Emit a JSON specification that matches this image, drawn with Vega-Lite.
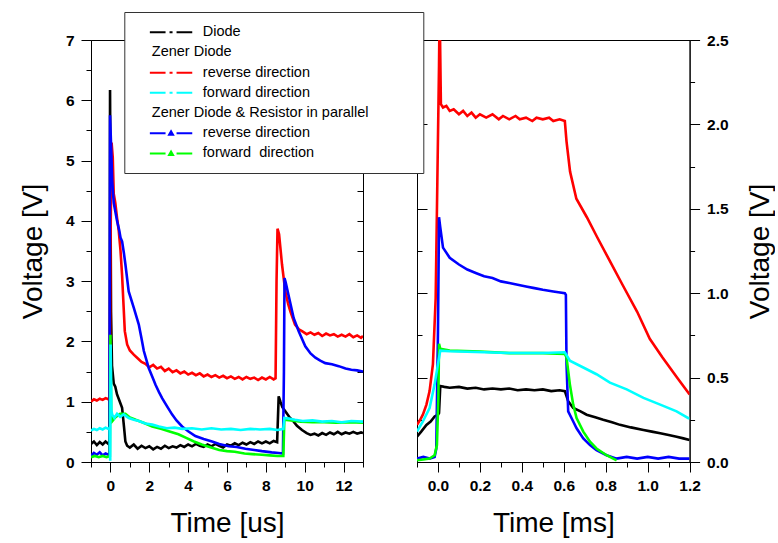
{
"$schema": "https://vega.github.io/schema/vega-lite/v6.json",
"autosize": {"type": "pad"},
"padding": {"left": 18, "top": 11, "right": 0, "bottom": 0},
"background": "white",
"config": {
  "font": "Liberation Sans",
  "view": {"stroke": "black", "strokeWidth": 1},
  "axis": {"labelFont": "Liberation Sans", "labelFontSize": 15.5, "labelFontWeight": "bold", "labelColor": "black", "titleFont": "Liberation Sans", "titleFontSize": 28, "titleFontWeight": "normal", "titleColor": "black", "domainColor": "black", "tickColor": "black", "grid": false, "domainWidth": 1, "tickWidth": 1, "labelFlush": false, "labelOverlap": false, "labelBound": false}
},
"datasets": {
"L": [
{"s":"D","t":-1,"v":0.30},{"s":"D","t":-0.85,"v":0.34},{"s":"D","t":-0.7,"v":0.28},{"s":"D","t":-0.55,"v":0.33},{"s":"D","t":-0.4,"v":0.29},{"s":"D","t":-0.25,"v":0.34},{"s":"D","t":-0.1,"v":0.30},{"s":"D","t":-0.04,"v":0.32},{"s":"D","t":-0.02,"v":6.17},{"s":"D","t":0.03,"v":2.5},{"s":"D","t":0.08,"v":1.6},{"s":"D","t":0.17,"v":1.3},{"s":"D","t":0.25,"v":1.25},{"s":"D","t":0.34,"v":1.12},{"s":"D","t":0.45,"v":1.03},{"s":"D","t":0.6,"v":0.9},{"s":"D","t":0.7,"v":0.58},{"s":"D","t":0.77,"v":0.34},{"s":"D","t":0.86,"v":0.27},{"s":"D","t":1.0,"v":0.24},{"s":"D","t":1.2,"v":0.29},{"s":"D","t":1.4,"v":0.22},{"s":"D","t":1.6,"v":0.27},{"s":"D","t":1.8,"v":0.23},{"s":"D","t":2.0,"v":0.26},{"s":"D","t":2.2,"v":0.21},{"s":"D","t":2.4,"v":0.25},{"s":"D","t":2.6,"v":0.22},{"s":"D","t":2.8,"v":0.27},{"s":"D","t":3.0,"v":0.23},{"s":"D","t":3.2,"v":0.26},{"s":"D","t":3.4,"v":0.24},{"s":"D","t":3.6,"v":0.28},{"s":"D","t":3.8,"v":0.25},{"s":"D","t":4.0,"v":0.29},{"s":"D","t":4.2,"v":0.26},{"s":"D","t":4.4,"v":0.30},{"s":"D","t":4.6,"v":0.27},{"s":"D","t":4.8,"v":0.25},{"s":"D","t":5.0,"v":0.29},{"s":"D","t":5.2,"v":0.26},{"s":"D","t":5.4,"v":0.30},{"s":"D","t":5.6,"v":0.27},{"s":"D","t":5.8,"v":0.24},{"s":"D","t":6.0,"v":0.29},{"s":"D","t":6.2,"v":0.27},{"s":"D","t":6.4,"v":0.31},{"s":"D","t":6.6,"v":0.28},{"s":"D","t":6.8,"v":0.32},{"s":"D","t":7.0,"v":0.29},{"s":"D","t":7.2,"v":0.33},{"s":"D","t":7.4,"v":0.30},{"s":"D","t":7.6,"v":0.34},{"s":"D","t":7.8,"v":0.31},{"s":"D","t":8.0,"v":0.34},{"s":"D","t":8.2,"v":0.31},{"s":"D","t":8.4,"v":0.35},{"s":"D","t":8.58,"v":0.33},{"s":"D","t":8.66,"v":1.09},{"s":"D","t":8.75,"v":1.0},{"s":"D","t":8.85,"v":0.91},{"s":"D","t":9.0,"v":0.84},{"s":"D","t":9.2,"v":0.75},{"s":"D","t":9.35,"v":0.70},{"s":"D","t":9.6,"v":0.60},{"s":"D","t":9.86,"v":0.53},{"s":"D","t":10.1,"v":0.48},{"s":"D","t":10.3,"v":0.45},{"s":"D","t":10.5,"v":0.47},{"s":"D","t":10.7,"v":0.44},{"s":"D","t":10.9,"v":0.48},{"s":"D","t":11.1,"v":0.45},{"s":"D","t":11.3,"v":0.49},{"s":"D","t":11.5,"v":0.46},{"s":"D","t":11.7,"v":0.50},{"s":"D","t":11.9,"v":0.46},{"s":"D","t":12.1,"v":0.49},{"s":"D","t":12.3,"v":0.47},{"s":"D","t":12.5,"v":0.50},{"s":"D","t":12.7,"v":0.47},{"s":"D","t":12.9,"v":0.49},{"s":"D","t":13.0,"v":0.48},
{"s":"ZR","t":-1,"v":1.0},{"s":"ZR","t":-0.85,"v":1.04},{"s":"ZR","t":-0.7,"v":1.02},{"s":"ZR","t":-0.55,"v":1.05},{"s":"ZR","t":-0.4,"v":1.03},{"s":"ZR","t":-0.25,"v":1.06},{"s":"ZR","t":-0.1,"v":1.04},{"s":"ZR","t":-0.03,"v":1.08},{"s":"ZR","t":0.0,"v":3.5},{"s":"ZR","t":0.06,"v":5.3},{"s":"ZR","t":0.12,"v":5.05},{"s":"ZR","t":0.17,"v":4.45},{"s":"ZR","t":0.25,"v":4.3},{"s":"ZR","t":0.34,"v":4.05},{"s":"ZR","t":0.43,"v":3.83},{"s":"ZR","t":0.52,"v":3.5},{"s":"ZR","t":0.6,"v":3.1},{"s":"ZR","t":0.66,"v":2.7},{"s":"ZR","t":0.74,"v":2.17},{"s":"ZR","t":0.86,"v":1.95},{"s":"ZR","t":1.0,"v":1.85},{"s":"ZR","t":1.2,"v":1.78},{"s":"ZR","t":1.4,"v":1.72},{"s":"ZR","t":1.6,"v":1.66},{"s":"ZR","t":1.8,"v":1.63},{"s":"ZR","t":2.0,"v":1.57},{"s":"ZR","t":2.2,"v":1.61},{"s":"ZR","t":2.4,"v":1.55},{"s":"ZR","t":2.6,"v":1.58},{"s":"ZR","t":2.8,"v":1.51},{"s":"ZR","t":3.0,"v":1.55},{"s":"ZR","t":3.2,"v":1.49},{"s":"ZR","t":3.4,"v":1.52},{"s":"ZR","t":3.6,"v":1.47},{"s":"ZR","t":3.8,"v":1.50},{"s":"ZR","t":4.0,"v":1.45},{"s":"ZR","t":4.2,"v":1.48},{"s":"ZR","t":4.4,"v":1.44},{"s":"ZR","t":4.6,"v":1.47},{"s":"ZR","t":4.8,"v":1.42},{"s":"ZR","t":5.0,"v":1.45},{"s":"ZR","t":5.2,"v":1.41},{"s":"ZR","t":5.4,"v":1.44},{"s":"ZR","t":5.6,"v":1.40},{"s":"ZR","t":5.8,"v":1.43},{"s":"ZR","t":6.0,"v":1.39},{"s":"ZR","t":6.2,"v":1.42},{"s":"ZR","t":6.4,"v":1.38},{"s":"ZR","t":6.6,"v":1.41},{"s":"ZR","t":6.8,"v":1.37},{"s":"ZR","t":7.0,"v":1.41},{"s":"ZR","t":7.2,"v":1.38},{"s":"ZR","t":7.4,"v":1.40},{"s":"ZR","t":7.6,"v":1.36},{"s":"ZR","t":7.8,"v":1.40},{"s":"ZR","t":8.0,"v":1.37},{"s":"ZR","t":8.2,"v":1.41},{"s":"ZR","t":8.4,"v":1.37},{"s":"ZR","t":8.5,"v":1.39},{"s":"ZR","t":8.55,"v":3.0},{"s":"ZR","t":8.6,"v":3.87},{"s":"ZR","t":8.68,"v":3.78},{"s":"ZR","t":8.83,"v":3.28},{"s":"ZR","t":9.0,"v":2.83},{"s":"ZR","t":9.15,"v":2.62},{"s":"ZR","t":9.26,"v":2.50},{"s":"ZR","t":9.5,"v":2.28},{"s":"ZR","t":9.7,"v":2.2},{"s":"ZR","t":9.86,"v":2.17},{"s":"ZR","t":10.1,"v":2.12},{"s":"ZR","t":10.3,"v":2.15},{"s":"ZR","t":10.5,"v":2.11},{"s":"ZR","t":10.7,"v":2.14},{"s":"ZR","t":10.9,"v":2.09},{"s":"ZR","t":11.1,"v":2.13},{"s":"ZR","t":11.3,"v":2.10},{"s":"ZR","t":11.5,"v":2.12},{"s":"ZR","t":11.7,"v":2.08},{"s":"ZR","t":11.9,"v":2.11},{"s":"ZR","t":12.1,"v":2.08},{"s":"ZR","t":12.3,"v":2.12},{"s":"ZR","t":12.5,"v":2.07},{"s":"ZR","t":12.7,"v":2.10},{"s":"ZR","t":12.9,"v":2.06},{"s":"ZR","t":13.0,"v":2.09},
{"s":"PR","t":-1,"v":0.10},{"s":"PR","t":-0.85,"v":0.15},{"s":"PR","t":-0.7,"v":0.12},{"s":"PR","t":-0.55,"v":0.16},{"s":"PR","t":-0.4,"v":0.11},{"s":"PR","t":-0.25,"v":0.14},{"s":"PR","t":-0.1,"v":0.12},{"s":"PR","t":-0.05,"v":0.14},{"s":"PR","t":-0.02,"v":5.75},{"s":"PR","t":0.04,"v":5.2},{"s":"PR","t":0.09,"v":4.66},{"s":"PR","t":0.17,"v":4.3},{"s":"PR","t":0.25,"v":4.16},{"s":"PR","t":0.34,"v":4.0},{"s":"PR","t":0.45,"v":3.85},{"s":"PR","t":0.52,"v":3.72},{"s":"PR","t":0.6,"v":3.66},{"s":"PR","t":0.7,"v":3.45},{"s":"PR","t":0.77,"v":3.28},{"s":"PR","t":0.94,"v":2.83},{"s":"PR","t":1.2,"v":2.56},{"s":"PR","t":1.46,"v":2.28},{"s":"PR","t":1.6,"v":2.05},{"s":"PR","t":1.72,"v":1.84},{"s":"PR","t":1.97,"v":1.56},{"s":"PR","t":2.15,"v":1.42},{"s":"PR","t":2.32,"v":1.28},{"s":"PR","t":2.5,"v":1.16},{"s":"PR","t":2.66,"v":1.06},{"s":"PR","t":2.9,"v":0.93},{"s":"PR","t":3.17,"v":0.79},{"s":"PR","t":3.4,"v":0.69},{"s":"PR","t":3.69,"v":0.59},{"s":"PR","t":4.0,"v":0.51},{"s":"PR","t":4.37,"v":0.43},{"s":"PR","t":4.8,"v":0.38},{"s":"PR","t":5.23,"v":0.34},{"s":"PR","t":5.6,"v":0.30},{"s":"PR","t":6.09,"v":0.26},{"s":"PR","t":6.5,"v":0.25},{"s":"PR","t":6.95,"v":0.22},{"s":"PR","t":7.4,"v":0.20},{"s":"PR","t":7.8,"v":0.18},{"s":"PR","t":8.3,"v":0.16},{"s":"PR","t":8.66,"v":0.15},{"s":"PR","t":8.88,"v":0.14},{"s":"PR","t":8.93,"v":1.5},{"s":"PR","t":8.96,"v":3.05},{"s":"PR","t":9.02,"v":2.98},{"s":"PR","t":9.2,"v":2.72},{"s":"PR","t":9.43,"v":2.39},{"s":"PR","t":9.69,"v":2.17},{"s":"PR","t":10.03,"v":1.92},{"s":"PR","t":10.3,"v":1.8},{"s":"PR","t":10.55,"v":1.73},{"s":"PR","t":10.8,"v":1.68},{"s":"PR","t":11.06,"v":1.64},{"s":"PR","t":11.4,"v":1.62},{"s":"PR","t":11.75,"v":1.59},{"s":"PR","t":12.1,"v":1.55},{"s":"PR","t":12.4,"v":1.53},{"s":"PR","t":12.7,"v":1.52},{"s":"PR","t":13.0,"v":1.50},
{"s":"PF","t":-1,"v":0.08},{"s":"PF","t":-0.8,"v":0.10},{"s":"PF","t":-0.6,"v":0.08},{"s":"PF","t":-0.4,"v":0.10},{"s":"PF","t":-0.2,"v":0.08},{"s":"PF","t":-0.03,"v":0.10},{"s":"PF","t":0.0,"v":2.11},{"s":"PF","t":0.04,"v":0.84},{"s":"PF","t":0.1,"v":0.68},{"s":"PF","t":0.25,"v":0.74},{"s":"PF","t":0.5,"v":0.80},{"s":"PF","t":0.77,"v":0.80},{"s":"PF","t":1.0,"v":0.74},{"s":"PF","t":1.3,"v":0.70},{"s":"PF","t":1.7,"v":0.65},{"s":"PF","t":2.15,"v":0.59},{"s":"PF","t":2.6,"v":0.55},{"s":"PF","t":3.0,"v":0.51},{"s":"PF","t":3.5,"v":0.46},{"s":"PF","t":3.9,"v":0.40},{"s":"PF","t":4.3,"v":0.34},{"s":"PF","t":4.7,"v":0.29},{"s":"PF","t":5.1,"v":0.25},{"s":"PF","t":5.6,"v":0.20},{"s":"PF","t":6.0,"v":0.18},{"s":"PF","t":6.4,"v":0.17},{"s":"PF","t":6.9,"v":0.14},{"s":"PF","t":7.3,"v":0.13},{"s":"PF","t":7.8,"v":0.12},{"s":"PF","t":8.2,"v":0.11},{"s":"PF","t":8.6,"v":0.10},{"s":"PF","t":8.9,"v":0.10},{"s":"PF","t":8.95,"v":0.70},{"s":"PF","t":9.3,"v":0.69},{"s":"PF","t":9.8,"v":0.67},{"s":"PF","t":10.4,"v":0.66},{"s":"PF","t":11.0,"v":0.66},{"s":"PF","t":11.6,"v":0.65},{"s":"PF","t":12.3,"v":0.66},{"s":"PF","t":13.0,"v":0.65},
{"s":"ZF","t":-1,"v":0.52},{"s":"ZF","t":-0.85,"v":0.55},{"s":"ZF","t":-0.7,"v":0.53},{"s":"ZF","t":-0.55,"v":0.56},{"s":"ZF","t":-0.4,"v":0.54},{"s":"ZF","t":-0.25,"v":0.57},{"s":"ZF","t":-0.1,"v":0.55},{"s":"ZF","t":-0.04,"v":0.57},{"s":"ZF","t":-0.01,"v":0.02},{"s":"ZF","t":0.01,"v":1.95},{"s":"ZF","t":0.05,"v":0.85},{"s":"ZF","t":0.09,"v":0.79},{"s":"ZF","t":0.2,"v":0.73},{"s":"ZF","t":0.34,"v":0.80},{"s":"ZF","t":0.5,"v":0.75},{"s":"ZF","t":0.68,"v":0.79},{"s":"ZF","t":0.94,"v":0.73},{"s":"ZF","t":1.2,"v":0.70},{"s":"ZF","t":1.46,"v":0.68},{"s":"ZF","t":1.8,"v":0.64},{"s":"ZF","t":2.15,"v":0.62},{"s":"ZF","t":2.5,"v":0.59},{"s":"ZF","t":2.9,"v":0.56},{"s":"ZF","t":3.3,"v":0.57},{"s":"ZF","t":3.7,"v":0.55},{"s":"ZF","t":4.2,"v":0.56},{"s":"ZF","t":4.7,"v":0.54},{"s":"ZF","t":5.2,"v":0.56},{"s":"ZF","t":5.7,"v":0.54},{"s":"ZF","t":6.2,"v":0.55},{"s":"ZF","t":6.7,"v":0.53},{"s":"ZF","t":7.2,"v":0.55},{"s":"ZF","t":7.7,"v":0.54},{"s":"ZF","t":8.2,"v":0.55},{"s":"ZF","t":8.6,"v":0.53},{"s":"ZF","t":8.9,"v":0.55},{"s":"ZF","t":8.95,"v":0.73},{"s":"ZF","t":9.2,"v":0.72},{"s":"ZF","t":9.5,"v":0.70},{"s":"ZF","t":9.9,"v":0.68},{"s":"ZF","t":10.4,"v":0.69},{"s":"ZF","t":10.9,"v":0.67},{"s":"ZF","t":11.4,"v":0.68},{"s":"ZF","t":11.9,"v":0.66},{"s":"ZF","t":12.4,"v":0.68},{"s":"ZF","t":13.0,"v":0.67}
],
"R": [
{"s":"D","t":-0.1,"v":0.15},{"s":"D","t":-0.08,"v":0.18},{"s":"D","t":-0.055,"v":0.22},{"s":"D","t":-0.035,"v":0.24},{"s":"D","t":-0.016,"v":0.27},{"s":"D","t":0.0,"v":0.28},{"s":"D","t":0.005,"v":0.29},{"s":"D","t":0.011,"v":0.45},{"s":"D","t":0.03,"v":0.445},{"s":"D","t":0.056,"v":0.44},{"s":"D","t":0.1,"v":0.445},{"s":"D","t":0.14,"v":0.435},{"s":"D","t":0.18,"v":0.44},{"s":"D","t":0.22,"v":0.43},{"s":"D","t":0.26,"v":0.435},{"s":"D","t":0.3,"v":0.43},{"s":"D","t":0.34,"v":0.435},{"s":"D","t":0.38,"v":0.425},{"s":"D","t":0.42,"v":0.43},{"s":"D","t":0.46,"v":0.425},{"s":"D","t":0.5,"v":0.43},{"s":"D","t":0.54,"v":0.42},{"s":"D","t":0.58,"v":0.425},{"s":"D","t":0.605,"v":0.42},{"s":"D","t":0.621,"v":0.36},{"s":"D","t":0.645,"v":0.32},{"s":"D","t":0.68,"v":0.30},{"s":"D","t":0.709,"v":0.28},{"s":"D","t":0.75,"v":0.265},{"s":"D","t":0.788,"v":0.25},{"s":"D","t":0.83,"v":0.235},{"s":"D","t":0.868,"v":0.22},{"s":"D","t":0.92,"v":0.205},{"s":"D","t":0.98,"v":0.19},{"s":"D","t":1.02,"v":0.18},{"s":"D","t":1.06,"v":0.17},{"s":"D","t":1.1,"v":0.16},{"s":"D","t":1.138,"v":0.15},{"s":"D","t":1.17,"v":0.14},{"s":"D","t":1.2,"v":0.13},
{"s":"ZR","t":-0.1,"v":0.22},{"s":"ZR","t":-0.085,"v":0.25},{"s":"ZR","t":-0.072,"v":0.28},{"s":"ZR","t":-0.055,"v":0.34},{"s":"ZR","t":-0.04,"v":0.42},{"s":"ZR","t":-0.024,"v":0.58},{"s":"ZR","t":-0.011,"v":0.97},{"s":"ZR","t":-0.003,"v":1.66},{"s":"ZR","t":0.005,"v":2.35},{"s":"ZR","t":0.008,"v":2.7},{"s":"ZR","t":0.014,"v":2.12},{"s":"ZR","t":0.024,"v":2.10},{"s":"ZR","t":0.04,"v":2.11},{"s":"ZR","t":0.056,"v":2.08},{"s":"ZR","t":0.075,"v":2.09},{"s":"ZR","t":0.1,"v":2.06},{"s":"ZR","t":0.12,"v":2.08},{"s":"ZR","t":0.14,"v":2.05},{"s":"ZR","t":0.16,"v":2.07},{"s":"ZR","t":0.18,"v":2.04},{"s":"ZR","t":0.2,"v":2.06},{"s":"ZR","t":0.23,"v":2.04},{"s":"ZR","t":0.26,"v":2.06},{"s":"ZR","t":0.29,"v":2.03},{"s":"ZR","t":0.31,"v":2.05},{"s":"ZR","t":0.34,"v":2.03},{"s":"ZR","t":0.37,"v":2.05},{"s":"ZR","t":0.39,"v":2.03},{"s":"ZR","t":0.42,"v":2.04},{"s":"ZR","t":0.45,"v":2.02},{"s":"ZR","t":0.47,"v":2.04},{"s":"ZR","t":0.5,"v":2.03},{"s":"ZR","t":0.53,"v":2.04},{"s":"ZR","t":0.55,"v":2.02},{"s":"ZR","t":0.58,"v":2.03},{"s":"ZR","t":0.605,"v":2.02},{"s":"ZR","t":0.613,"v":1.90},{"s":"ZR","t":0.63,"v":1.72},{"s":"ZR","t":0.66,"v":1.56},{"s":"ZR","t":0.71,"v":1.45},{"s":"ZR","t":0.76,"v":1.33},{"s":"ZR","t":0.82,"v":1.19},{"s":"ZR","t":0.88,"v":1.05},{"s":"ZR","t":0.95,"v":0.89},{"s":"ZR","t":1.01,"v":0.73},{"s":"ZR","t":1.07,"v":0.62},{"s":"ZR","t":1.14,"v":0.50},{"s":"ZR","t":1.194,"v":0.41},{"s":"ZR","t":1.2,"v":0.40},
{"s":"PR","t":-0.1,"v":0.02},{"s":"PR","t":-0.07,"v":0.03},{"s":"PR","t":-0.04,"v":0.02},{"s":"PR","t":-0.016,"v":0.03},{"s":"PR","t":-0.008,"v":0.08},{"s":"PR","t":0.0,"v":0.77},{"s":"PR","t":0.005,"v":1.45},{"s":"PR","t":0.011,"v":1.39},{"s":"PR","t":0.024,"v":1.27},{"s":"PR","t":0.056,"v":1.21},{"s":"PR","t":0.1,"v":1.17},{"s":"PR","t":0.14,"v":1.14},{"s":"PR","t":0.18,"v":1.12},{"s":"PR","t":0.22,"v":1.10},{"s":"PR","t":0.26,"v":1.09},{"s":"PR","t":0.3,"v":1.07},{"s":"PR","t":0.34,"v":1.06},{"s":"PR","t":0.38,"v":1.05},{"s":"PR","t":0.42,"v":1.04},{"s":"PR","t":0.46,"v":1.03},{"s":"PR","t":0.5,"v":1.02},{"s":"PR","t":0.55,"v":1.01},{"s":"PR","t":0.605,"v":1.0},{"s":"PR","t":0.61,"v":0.99},{"s":"PR","t":0.613,"v":0.58},{"s":"PR","t":0.621,"v":0.30},{"s":"PR","t":0.645,"v":0.24},{"s":"PR","t":0.661,"v":0.20},{"s":"PR","t":0.693,"v":0.14},{"s":"PR","t":0.725,"v":0.10},{"s":"PR","t":0.756,"v":0.07},{"s":"PR","t":0.804,"v":0.04},{"s":"PR","t":0.852,"v":0.02},{"s":"PR","t":0.9,"v":0.03},{"s":"PR","t":0.95,"v":0.02},{"s":"PR","t":1.0,"v":0.03},{"s":"PR","t":1.05,"v":0.02},{"s":"PR","t":1.1,"v":0.03},{"s":"PR","t":1.15,"v":0.02},{"s":"PR","t":1.2,"v":0.02},
{"s":"PF","t":-0.1,"v":0.01},{"s":"PF","t":-0.07,"v":0.015},{"s":"PF","t":-0.04,"v":0.02},{"s":"PF","t":-0.016,"v":0.04},{"s":"PF","t":-0.005,"v":0.10},{"s":"PF","t":0.002,"v":0.38},{"s":"PF","t":0.005,"v":0.70},{"s":"PF","t":0.011,"v":0.67},{"s":"PF","t":0.056,"v":0.66},{"s":"PF","t":0.2,"v":0.655},{"s":"PF","t":0.34,"v":0.645},{"s":"PF","t":0.5,"v":0.645},{"s":"PF","t":0.605,"v":0.64},{"s":"PF","t":0.613,"v":0.62},{"s":"PF","t":0.629,"v":0.46},{"s":"PF","t":0.645,"v":0.34},{"s":"PF","t":0.661,"v":0.26},{"s":"PF","t":0.693,"v":0.18},{"s":"PF","t":0.725,"v":0.12},{"s":"PF","t":0.756,"v":0.08},{"s":"PF","t":0.804,"v":0.04},{"s":"PF","t":0.852,"v":0.01},
{"s":"ZF","t":-0.1,"v":0.18},{"s":"ZF","t":-0.072,"v":0.24},{"s":"ZF","t":-0.04,"v":0.32},{"s":"ZF","t":-0.016,"v":0.46},{"s":"ZF","t":0.0,"v":0.58},{"s":"ZF","t":0.011,"v":0.66},{"s":"ZF","t":0.056,"v":0.656},{"s":"ZF","t":0.18,"v":0.652},{"s":"ZF","t":0.34,"v":0.646},{"s":"ZF","t":0.5,"v":0.646},{"s":"ZF","t":0.605,"v":0.65},{"s":"ZF","t":0.629,"v":0.60},{"s":"ZF","t":0.693,"v":0.56},{"s":"ZF","t":0.756,"v":0.52},{"s":"ZF","t":0.82,"v":0.47},{"s":"ZF","t":0.9,"v":0.43},{"s":"ZF","t":0.98,"v":0.38},{"s":"ZF","t":1.06,"v":0.34},{"s":"ZF","t":1.138,"v":0.30},{"s":"ZF","t":1.194,"v":0.26},{"s":"ZF","t":1.2,"v":0.26}
]
},
"hconcat": [
{
  "width": 272, "height": 422,
  "layer": [
    {
      "data": {"name": "L"},
      "mark": {"type": "line", "strokeWidth": 2.6, "clip": true},
      "encoding": {
        "x": {"field": "t", "type": "quantitative", "scale": {"domain": [-1, 13], "nice": false, "zero": false},
              "axis": {"values": [-1,0,1,2,3,4,5,6,7,8,9,10,11,12,13], "format": ".0f", "labelExpr": "datum.value % 2 == 0 ? datum.label : ''", "tickSize": {"condition": {"test": "datum.value % 2 == 0", "value": 10}, "value": 5}, "labelPadding": 6, "title": "Time [us]", "titlePadding": 16}},
        "y": {"field": "v", "type": "quantitative", "scale": {"domain": [0, 7], "nice": false},
              "axis": {"values": [0,0.5,1,1.5,2,2.5,3,3.5,4,4.5,5,5.5,6,6.5,7], "format": ".0f", "labelExpr": "datum.value % 1 == 0 ? datum.label : ''", "tickSize": {"condition": {"test": "datum.value % 1 == 0", "value": 10}, "value": 5}, "labelPadding": 7, "title": "Voltage [V]", "titlePadding": 18}},
        "color": {"field": "s", "type": "nominal",
                  "scale": {"domain": ["D","H1","ZR","ZF","H2","PR","PF"], "range": ["#000000","transparent","#ff0000","#00ffff","transparent","#0000ff","#00ff00"]},
                  "legend": {"orient": "none", "legendX": 33.3, "legendY": -28, "title": null,
                     "labelExpr": "datum.value=='D' ? 'Diode' : datum.value=='H1' ? 'Zener Diode' : datum.value=='H2' ? 'Zener Diode & Resistor in parallel' : (datum.value=='ZR' || datum.value=='PR') ? 'reverse direction' : datum.value=='ZF' ? 'forward direction' : 'forward\u00a0 direction'",
                     "labelFont": "Liberation Sans", "labelFontSize": 14.5, "labelColor": "black", "labelLimit": 0,
                     "symbolType": "M-4.24,0H-1.1M-0.3,0H0.3M1.1,0H4.24", "symbolSize": 100, "symbolStrokeWidth": 2,
                     "symbolOffset": 26.5, "labelOffset": 24.5, "padding": 13, "rowPadding": 5.2,
                     "fillColor": "white", "strokeColor": "#333333",
                     "encode": {
                       "labels": {"update": {"dx": {"signal": "(datum.value=='H1' || datum.value=='H2') ? -51 : 0"}}},
                       "symbols": {"update": {"shape": {"signal": "datum.value=='H2' ? 'M0,0H46.9' : (datum.value=='PR' || datum.value=='PF') ? 'M-4.24,0H-1.1M1.1,0H4.24M-0.4,0.3L0,-0.4L0.4,0.3Z' : 'M-4.24,0H-1.1M-0.3,0H0.3M1.1,0H4.24'"}}}
                     }}}
      }
    },
    {
      "data": {"values": [{"v": 0}]},
      "mark": {"type": "rule", "opacity": 0},
      "encoding": {
        "y": {"field": "v", "type": "quantitative", "axis": {"orient": "right", "labels": false, "domain": false, "title": null, "values": [0,0.5,1,1.5,2,2.5,3,3.5,4,4.5,5,5.5,6,6.5,7], "tickSize": -6}}
      }
    }
  ],
  "resolve": {"axis": {"y": "independent"}}
},
{
  "width": 272.6, "height": 422,
  "layer": [
    {
      "data": {"name": "R"},
      "mark": {"type": "line", "strokeWidth": 2.6, "clip": true},
      "encoding": {
        "x": {"field": "t", "type": "quantitative", "scale": {"domain": [-0.1, 1.2], "nice": false, "zero": false},
              "axis": {"values": [-0.1,0,0.1,0.2,0.3,0.4,0.5,0.6,0.7,0.8,0.9,1.0,1.1,1.2], "format": ".1f", "labelExpr": "abs(round(datum.value*10)) % 2 == 0 ? datum.label : ''", "tickSize": {"condition": {"test": "abs(round(datum.value*10)) % 2 == 0", "value": 10}, "value": 5}, "labelPadding": 6, "title": "Time [ms]", "titlePadding": 16}},
        "y": {"field": "v", "type": "quantitative", "scale": {"domain": [0, 2.5], "nice": false},
              "axis": {"orient": "right", "values": [0,0.25,0.5,0.75,1,1.25,1.5,1.75,2,2.25,2.5], "format": ".1f", "labelExpr": "round(datum.value*4) % 2 == 0 ? datum.label : ''", "tickSize": {"condition": {"test": "round(datum.value*4) % 2 == 0", "value": 10}, "value": 5}, "labelPadding": 7, "title": "Voltage [V]", "titleAngle": 270, "titleBaseline": "top", "titlePadding": 18}},
        "color": {"field": "s", "type": "nominal"}
      }
    },
    {
      "data": {"values": [{"v": 0}]},
      "mark": {"type": "rule", "opacity": 0},
      "encoding": {
        "y": {"field": "v", "type": "quantitative", "axis": {"orient": "left", "labels": false, "domain": false, "title": null, "values": [0,0.25,0.5,0.75,1,1.25,1.5,1.75,2,2.25,2.5], "tickSize": {"condition": {"test": "round(datum.value*4) % 2 == 0", "value": -10}, "value": -5}}}
      }
    }
  ],
  "resolve": {"axis": {"y": "independent"}}
}
],
"spacing": 54,
"bounds": "flush",
"resolve": {"scale": {"color": "shared"}, "legend": {"color": "shared"}}
}
